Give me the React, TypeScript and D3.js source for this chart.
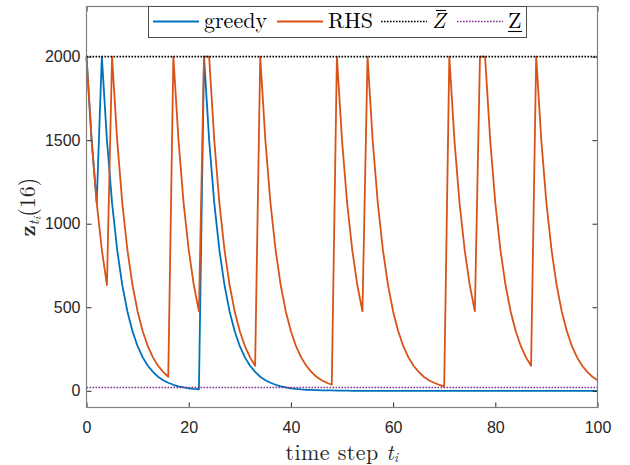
import { useRef, useEffect } from 'react';
import * as d3 from 'd3';

// z_{t_i}(16) per time step
const greedy = [
  2000, 1500, 1125,
  2000, 1500, 1125, 844, 633, 475, 356, 267, 200, 150, 113, 84, 63, 48, 36, 27, 20, 15, 11, 8,
  2000, 1500, 1125, 844, 633, 475, 356, 267, 200, 150, 113, 84, 63, 48, 36, 27, 20, 15, 11, 8,
  6, 5, 4, 3, 2, 2, 1, 1, 1,
  0, 0, 0, 0, 0, 0, 0, 0, 0, 0, 0, 0, 0, 0, 0, 0, 0, 0, 0, 0, 0, 0, 0, 0, 0,
  0, 0, 0, 0, 0, 0, 0, 0, 0, 0, 0, 0, 0, 0, 0, 0, 0, 0, 0, 0, 0, 0, 0, 0,
];

const rhs = [
  2000, 1500, 1125, 844, 633,
  2000, 1500, 1125, 844, 633, 475, 356, 267, 200, 150, 113, 84,
  2000, 1500, 1125, 844, 633, 475,
  2000,
  2000, 1500, 1125, 844, 633, 475, 356, 267, 200, 150,
  2000, 1500, 1125, 844, 633, 475, 356, 267, 200, 150, 113, 84, 63, 48, 36,
  2000, 1500, 1125, 844, 633, 475,
  2000, 1500, 1125, 844, 633, 475, 356, 267, 200, 150, 113, 84, 63, 48, 36, 27,
  2000, 1500, 1125, 844, 633, 475,
  2000,
  2000, 1500, 1125, 844, 633, 475, 356, 267, 200, 150,
  2000, 1500, 1125, 844, 633, 475, 356, 267, 200, 150, 113, 84, 63,
];

const zUpper = 2000;
const zLower = 20;
const xTicks = [0, 20, 40, 60, 80, 100];
const yTicks = [0, 500, 1000, 1500, 2000];

const serif = "'Latin Modern Roman', 'CMU Serif', 'Liberation Serif', serif";
const sans = "'Liberation Sans', Arial, Helvetica, sans-serif";

function App() {
  const svgRef = useRef<SVGSVGElement>(null);
  const width = 630;
  const height = 465;

  useEffect(() => {
    const margin = { top: 6.5, right: 32.5, bottom: 57.5, left: 86.5 };
    const svg = d3.select(svgRef.current);
    svg.selectAll('*').remove();

    const xScale = d3
      .scaleLinear()
      .domain([0, 100])
      .range([margin.left, width - margin.right]);
    const yScale = d3
      .scaleLinear()
      .domain([-100, 2300])
      .range([height - margin.bottom, margin.top]);

    const x0 = margin.left;
    const x1 = width - margin.right;
    const y0 = height - margin.bottom;
    const y1 = margin.top;

    svg
      .append('rect')
      .attr('x', x0)
      .attr('y', y1)
      .attr('width', x1 - x0)
      .attr('height', y0 - y1)
      .attr('fill', 'white');

    // lines
    const line = d3
      .line<number>()
      .x((_, i) => xScale(i))
      .y((d) => yScale(d));

    svg
      .append('path')
      .datum(greedy)
      .attr('d', line)
      .attr('fill', 'none')
      .attr('stroke', '#0072BD')
      .attr('stroke-width', 1.8)
      .attr('stroke-linejoin', 'round');

    svg
      .append('path')
      .datum(rhs)
      .attr('d', line)
      .attr('fill', 'none')
      .attr('stroke', '#D95319')
      .attr('stroke-width', 1.8)
      .attr('stroke-linejoin', 'round');

    svg
      .append('line')
      .attr('x1', x0)
      .attr('x2', x1)
      .attr('y1', yScale(zUpper))
      .attr('y2', yScale(zUpper))
      .attr('stroke', 'black')
      .attr('stroke-width', 1.6)
      .attr('stroke-dasharray', '1.6 1.4');

    svg
      .append('line')
      .attr('x1', x0)
      .attr('x2', x1)
      .attr('y1', yScale(zLower))
      .attr('y2', yScale(zLower))
      .attr('stroke', '#7E2F8E')
      .attr('stroke-width', 1.6)
      .attr('stroke-dasharray', '1.6 1.4');

    // axes (MATLAB style, ticks inside)
    const styleAxis = (g: any, labels: boolean) => {
      g.select('.domain').remove();
      g.selectAll('line').attr('stroke', '#262626');
      g.selectAll('text')
        .style('font-family', sans)
        .style('font-size', '16px')
        .attr('fill', '#262626');
      if (!labels) g.selectAll('text').remove();
    };

    svg
      .append('g')
      .attr('transform', `translate(0,${y0})`)
      .call(
        d3.axisBottom(xScale).tickValues(xTicks).tickSize(-5).tickPadding(14).tickFormat(d3.format('d'))
      )
      .call((g) => styleAxis(g, true));

    svg
      .append('g')
      .attr('transform', `translate(0,${y1})`)
      .call(d3.axisTop(xScale).tickValues(xTicks).tickSize(-5))
      .call((g) => styleAxis(g, false));

    svg
      .append('g')
      .attr('transform', `translate(${x0},0)`)
      .call(
        d3.axisLeft(yScale).tickValues(yTicks).tickSize(-5).tickPadding(6).tickFormat(d3.format('d'))
      )
      .call((g) => styleAxis(g, true));

    svg
      .append('g')
      .attr('transform', `translate(${x1},0)`)
      .call(d3.axisRight(yScale).tickValues(yTicks).tickSize(-5))
      .call((g) => styleAxis(g, false));

    svg
      .append('rect')
      .attr('x', x0)
      .attr('y', y1)
      .attr('width', x1 - x0)
      .attr('height', y0 - y1)
      .attr('fill', 'none')
      .attr('stroke', '#808080')
      .attr('stroke-width', 1.2);

    // axis labels
    const xLabel = svg
      .append('text')
      .attr('x', (x0 + x1) / 2)
      .attr('y', 460)
      .attr('text-anchor', 'middle')
      .style('font-family', serif)
      .style('font-size', '22px')
      .style('letter-spacing', '0.4px')
      .attr('fill', '#262626');
    xLabel.append('tspan').text('time step ');
    xLabel.append('tspan').style('font-style', 'italic').text('t');
    xLabel
      .append('tspan')
      .style('font-style', 'italic')
      .style('font-size', '13px')
      .attr('dy', 2)
      .text('i');

    const yLabel = svg
      .append('text')
      .attr('transform', `translate(35,${(y0 + y1) / 2}) rotate(-90)`)
      .attr('text-anchor', 'middle')
      .style('font-family', serif)
      .style('font-size', '22px')
      .attr('fill', '#262626');
    yLabel.append('tspan').style('font-weight', 'bold').text('z');
    yLabel
      .append('tspan')
      .style('font-style', 'italic')
      .style('font-size', '15px')
      .attr('dy', 4)
      .text('t');
    yLabel
      .append('tspan')
      .style('font-style', 'italic')
      .style('font-size', '11px')
      .attr('dy', 2)
      .text('i');
    yLabel.append('tspan').attr('dy', -6).text('(16)');

    // legend
    const legend = svg.append('g');
    legend
      .append('rect')
      .attr('x', 148.5)
      .attr('y', y1)
      .attr('width', 378)
      .attr('height', 31)
      .attr('fill', 'white')
      .attr('stroke', '#4d4d4d')
      .attr('stroke-width', 1);

    const items = [
      { x: 153, color: '#0072BD', dash: null, label: 'greedy' },
      { x: 277, color: '#D95319', dash: null, label: 'RHS' },
      { x: 381, color: 'black', dash: '1.6 1.4', label: 'Zbar' },
      { x: 457, color: '#7E2F8E', dash: '1.6 1.4', label: 'Zunder' },
    ];

    items.forEach((it) => {
      legend
        .append('line')
        .attr('x1', it.x)
        .attr('x2', it.x + 46)
        .attr('y1', 21.5)
        .attr('y2', 21.5)
        .attr('stroke', it.color)
        .attr('stroke-width', it.dash ? 1.4 : 1.8)
        .attr('stroke-dasharray', it.dash);

      const tx = it.x + 51;
      const t = legend
        .append('text')
        .attr('x', tx)
        .attr('y', 28)
        .style('font-family', serif)
        .style('font-size', '22px')
        .attr('fill', 'black');
      if (it.label === 'Zbar') {
        t.style('font-style', 'italic').text('Z');
        legend
          .append('line')
          .attr('x1', tx + 4)
          .attr('x2', tx + 14)
          .attr('y1', 10.5)
          .attr('y2', 10.5)
          .attr('stroke', 'black')
          .attr('stroke-width', 1.1);
      } else if (it.label === 'Zunder') {
        t.text('Z');
        legend
          .append('line')
          .attr('x1', tx)
          .attr('x2', tx + 14)
          .attr('y1', 31.5)
          .attr('y2', 31.5)
          .attr('stroke', 'black')
          .attr('stroke-width', 1.1);
      } else {
        t.text(it.label);
      }
    });
  }, []);

  return (
    <svg
      ref={svgRef}
      width={width}
      height={height}
      style={{ position: 'absolute', left: 0, top: 0, background: 'white' }}
    ></svg>
  );
}

export default App;
